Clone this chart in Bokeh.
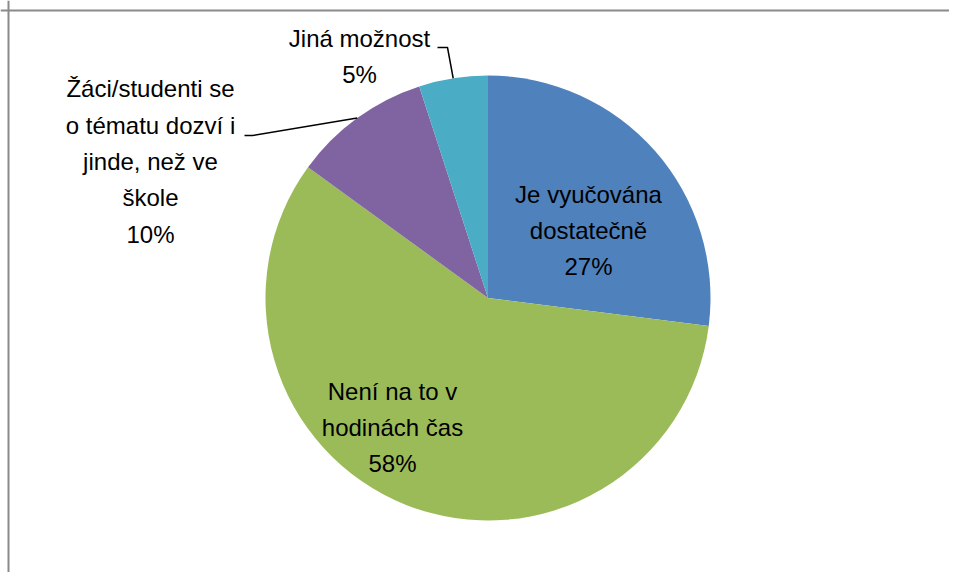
import math
from bokeh.plotting import figure
from bokeh.models import Range1d, Span, ColumnDataSource
from bokeh.core.properties import value
from bokeh.embed import file_html
from bokeh.resources import INLINE

# ---- data ----
categories = ["Je vyučována dostatečně", "Není na to v hodinách čas",
              "Žáci/studenti se o tématu dozví i jinde, než ve škole", "Jiná možnost"]
label_texts = ["Je vyučována\ndostatečně\n27%", "Není na to v\nhodinách čas\n58%",
               "Žáci/studenti se\no tématu dozví i\njinde, než ve\nškole\n10%", "Jiná možnost\n5%"]
percents = [27, 58, 10, 5]
colors = ["#4F81BD", "#9BBB59", "#8064A2", "#4BACC6"]

# ---- layout ----
W, H = 949, 572
cx, cy, R = 488.5, -298.5, 222.5
label_x = [589, 393, 151, 360]
label_y = [-231, -428, -162, -57]

p = figure(width=W, height=H, output_backend="svg", toolbar_location=None,
           x_range=Range1d(1, 1 + W), y_range=Range1d(-1 - H, -1),
           min_border=0, outline_line_color=None)
p.axis.visible = False
p.grid.visible = False
p.background_fill_color = "white"
p.border_fill_color = "white"

total = float(sum(percents))
starts, ends, mids = [], [], []
cum = 0.0
for v in percents:
    a0 = math.pi / 2 - 2 * math.pi * cum / total
    cum += v
    a1 = math.pi / 2 - 2 * math.pi * cum / total
    starts.append(a0)
    ends.append(a1)
    mids.append((a0 + a1) / 2)

src = ColumnDataSource(dict(start=starts, end=ends, color=colors, cat=categories))
p.wedge(x=cx, y=cy, radius=R, start_angle="start", end_angle="end",
        direction="clock", fill_color="color", line_color=None, source=src)

# leader lines for outside labels (purple, teal)
edge = [(cx + R * math.cos(m), cy + R * math.sin(m)) for m in mids]
lx = [[245, 253, edge[2][0]], [438, 448, edge[3][0]]]
ly = [[-136, -136, edge[2][1]], [-48, -48, edge[3][1]]]
p.multi_line(xs=lx, ys=ly, line_color="black", line_width=1.5)

p.text(x=label_x, y=label_y, text=label_texts, text_align="center",
       text_baseline="middle", text_font=value("Liberation Sans"),
       text_font_size="24px", text_color="black", text_line_height=1.35)

# chart frame
p.add_layout(Span(location=9, dimension="height", line_color="#8a8a8a", line_width=2))
p.add_layout(Span(location=-11, dimension="width", line_color="#8a8a8a", line_width=2))

open("out.html", "w").write(file_html(p, INLINE))
